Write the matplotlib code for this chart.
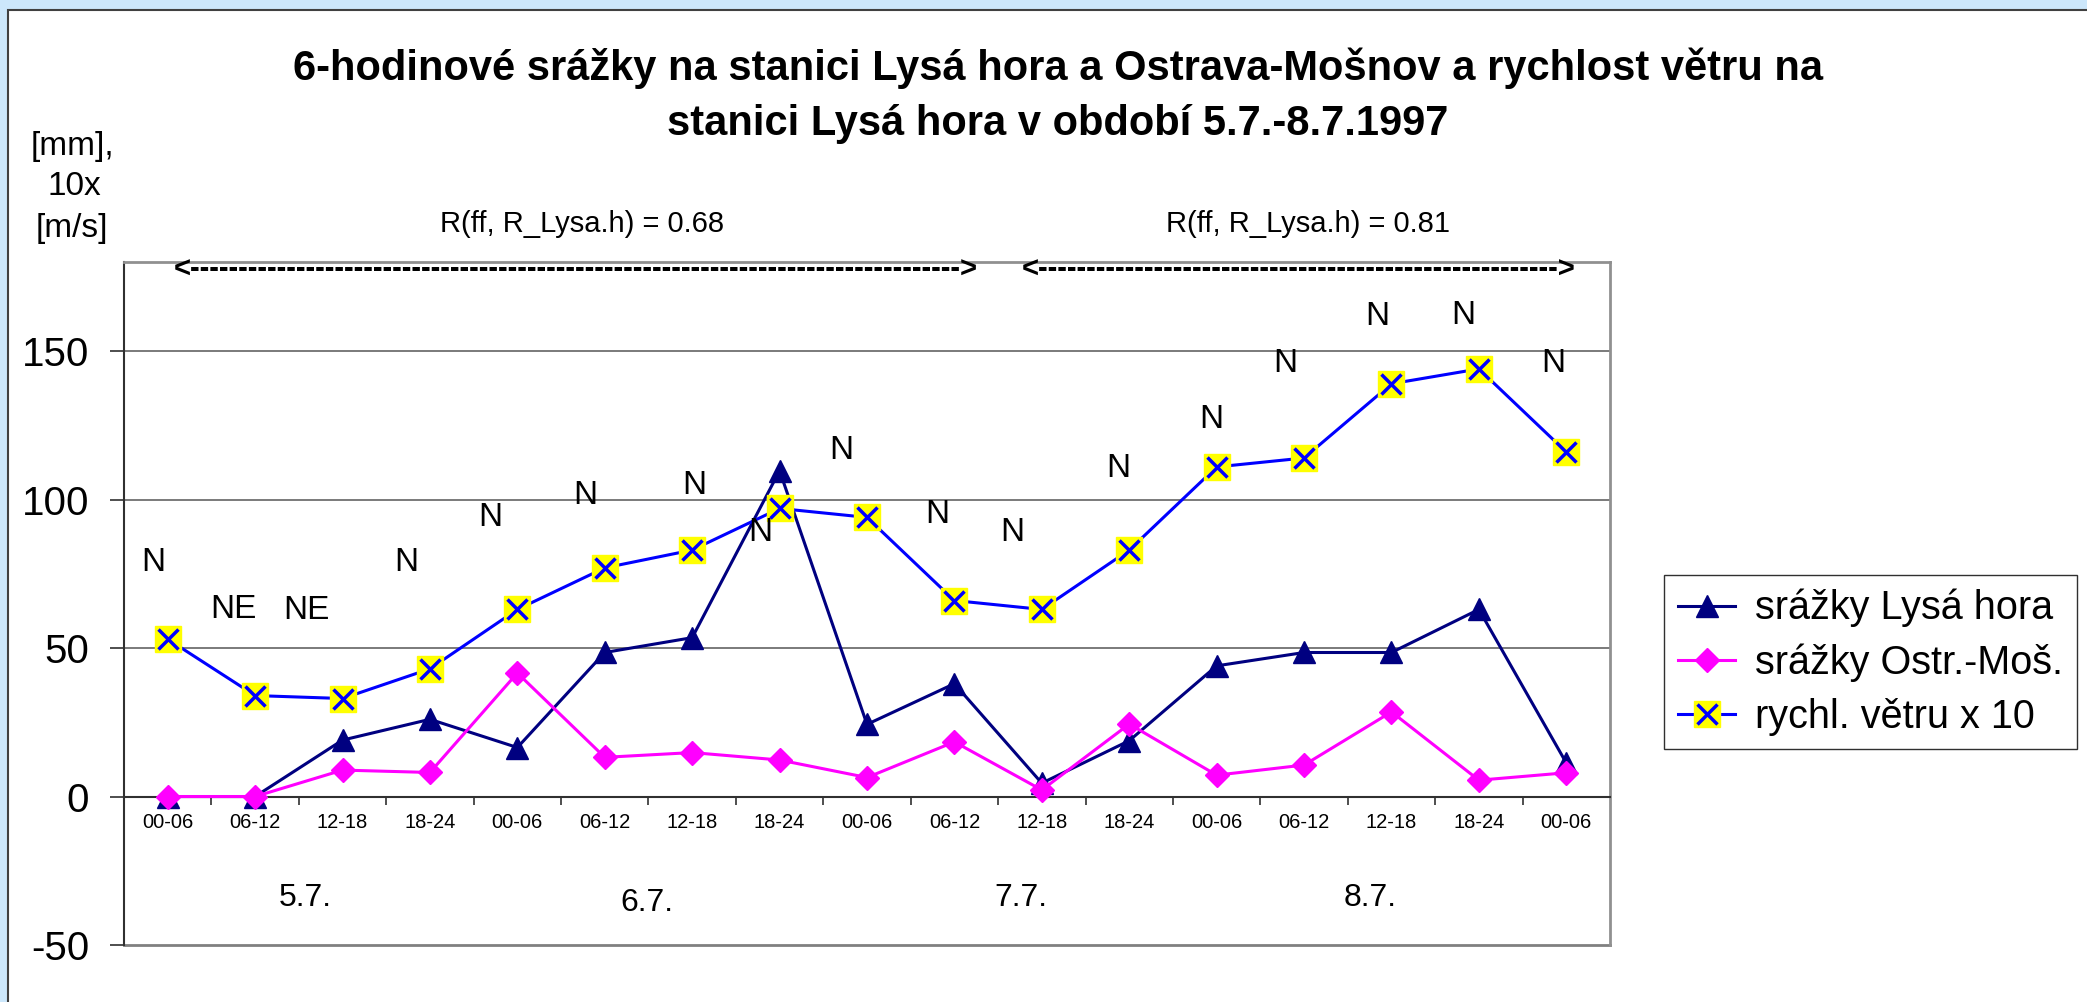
import numpy as np
import matplotlib
matplotlib.use("Agg")
import matplotlib.pyplot as plt
from matplotlib.patches import Rectangle
from matplotlib.ticker import FixedLocator

plt.rcParams['font.family'] = ['Liberation Sans', 'DejaVu Sans']
plt.rcParams['axes.unicode_minus'] = False

# 6-hodinové intervaly 5.7. 00 h až 9.7. 06 h
intervaly = ['00-06', '06-12', '12-18', '18-24',
             '00-06', '06-12', '12-18', '18-24',
             '00-06', '06-12', '12-18', '18-24',
             '00-06', '06-12', '12-18', '18-24',
             '00-06']
srazky_lysa = [0, 0, 19.0, 26.0, 16.5, 48.5, 53.5, 109.7, 24.3, 38.0,
               4.5, 18.8, 44.0, 48.5, 48.5, 63.0, 11.3]
srazky_ostrava = [0, 0, 8.9, 8.1, 41.6, 13.2, 14.8, 12.3, 6.4, 18.4,
                  2.2, 24.4, 7.2, 10.6, 28.5, 5.5, 8.0]
vitr_x10 = [53, 34, 33, 43, 63, 77, 83, 97, 94, 66, 63, 83, 111, 114,
            139, 144, 116]

# směr větru a kam se popisek vypisuje
smer_vetru = ['N', 'NE', 'NE', 'N', 'N', 'N', 'N', 'N', 'N', 'N', 'N',
              'N', 'N', 'N', 'N', 'N', 'N']
smer_x = [-0.16, 0.75, 1.59, 2.73, 3.69, 4.78, 6.03, 6.78, 7.71, 8.80,
          9.66, 10.87, 11.94, 12.78, 13.84, 14.82, 15.85]
smer_y = [78.8, 63.0, 62.5, 78.8, 94.0, 101.3, 104.7, 88.9, 116.5, 95.1,
          88.9, 110.5, 126.8, 145.7, 161.5, 162.0, 145.7]

dny = ['5.7.', '6.7.', '7.7.', '8.7.']
dny_x = [1.57, 5.48, 9.76, 13.76]
dny_y = [-34.2, -35.9, -34.2, -34.2]

W, H = 2087, 1002
fig = plt.figure(figsize=(W / 100, H / 100), dpi=100)
fig.patch.set_facecolor('#CCE7FB')
fig.add_artist(Rectangle((8 / W, -0.05), 1.1, 1.05 - 10 / H,
                         transform=fig.transFigure, facecolor='white',
                         edgecolor='#404040', lw=1.5, zorder=0))

ax = fig.add_axes([124 / W, 1 - 945 / H, (1610 - 124) / W, (945 - 262) / H])
x = np.arange(len(intervaly))
ax.set_xlim(-0.5, len(intervaly) - 0.5)
ax.set_ylim(-50, 180)

# mřížka a osy
for g in [50, 100, 150]:
    ax.axhline(g, color='#707070', lw=1.3, zorder=1)
ax.axhline(-50, color='#808080', lw=2, clip_on=False, zorder=1)
ax.spines['bottom'].set_position(('data', 0))
ax.spines['bottom'].set_color('#303030')
ax.spines['bottom'].set_linewidth(1.5)
ax.spines['left'].set_color('#303030')
ax.spines['left'].set_linewidth(1.5)
for s in ['top', 'right']:
    ax.spines[s].set_color('#909090')
    ax.spines[s].set_linewidth(2)

ax.set_yticks([-50, 0, 50, 100, 150])
ax.tick_params(axis='y', direction='out', length=10, width=1.2, color='#303030',
               labelsize=29, pad=15)
ax.set_xticks(x)
ax.set_xticklabels(intervaly)
ax.xaxis.set_minor_locator(FixedLocator(x[:-1] + 0.5))
ax.tick_params(axis='x', which='major', length=0, labelsize=14.5, pad=12)
ax.tick_params(axis='x', which='minor', direction='out', length=6, width=1.2,
               color='#303030')

l1, = ax.plot(x, srazky_lysa, color='#000080', lw=2.2, marker='^', ms=16,
              zorder=3)
l2, = ax.plot(x, srazky_ostrava, color='#FF00FF', lw=2.2, marker='D', ms=12,
              zorder=4)
l3, = ax.plot(x, vitr_x10, color='#0000FF', lw=2.2, marker='s', ms=18.5,
              mfc='#FFFF00', mec='#FFFF00', zorder=5)
l3x, = ax.plot(x, vitr_x10, ls='none', marker='x', ms=14, mew=2.5,
               color='#0000FF', zorder=6)

for t, sx, sy in zip(smer_vetru, smer_x, smer_y):
    ax.text(sx, sy, t, fontsize=24, ha='center', va='center', zorder=7)

for t, dx, dy in zip(dny, dny_x, dny_y):
    ax.text(dx, dy, t, fontsize=23, ha='center', va='center')

# korelace pro dvě období
fig.text(582 / W, 1 - 224 / H, 'R(ff, R_Lysa.h) = 0.68', fontsize=21,
         ha='center', va='center')
fig.text(1308 / W, 1 - 224 / H, 'R(ff, R_Lysa.h) = 0.81', fontsize=21,
         ha='center', va='center')
fig.text(174 / W, 1 - 270 / H, '<' + '-' * 80 + '>', fontsize=21,
         weight='bold', ha='left', va='center')
fig.text(1022 / W, 1 - 270 / H, '<' + '-' * 54 + '>', fontsize=21,
         weight='bold', ha='left', va='center')

fig.text(1058 / W, 1 - 68 / H,
         '6-hodinové srážky na stanici Lysá hora a Ostrava-Mošnov a rychlost větru na',
         fontsize=30, weight='bold', ha='center', va='center')
fig.text(1058 / W, 1 - 124 / H,
         'stanici Lysá hora v období 5.7.-8.7.1997',
         fontsize=30, weight='bold', ha='center', va='center')

fig.text(72 / W, 1 - 146 / H, '[mm],', fontsize=24, ha='center', va='center')
fig.text(74 / W, 1 - 187 / H, '10x', fontsize=24, ha='center', va='center')
fig.text(72 / W, 1 - 228 / H, '[m/s]', fontsize=24, ha='center', va='center')

fig.legend([l1, l2, (l3, l3x)],
           ['srážky Lysá hora', 'srážky Ostr.-Moš.', 'rychl. větru x 10'],
           loc='upper left', bbox_to_anchor=(1664 / W, 1 - 575 / H),
           borderaxespad=0, fontsize=28.5, frameon=True, fancybox=False,
           edgecolor='#303030', framealpha=1, handlelength=1.45, numpoints=1,
           labelspacing=0.4, borderpad=0.35, handletextpad=0.5)

fig.savefig('out.png', dpi=100, facecolor=fig.get_facecolor())
